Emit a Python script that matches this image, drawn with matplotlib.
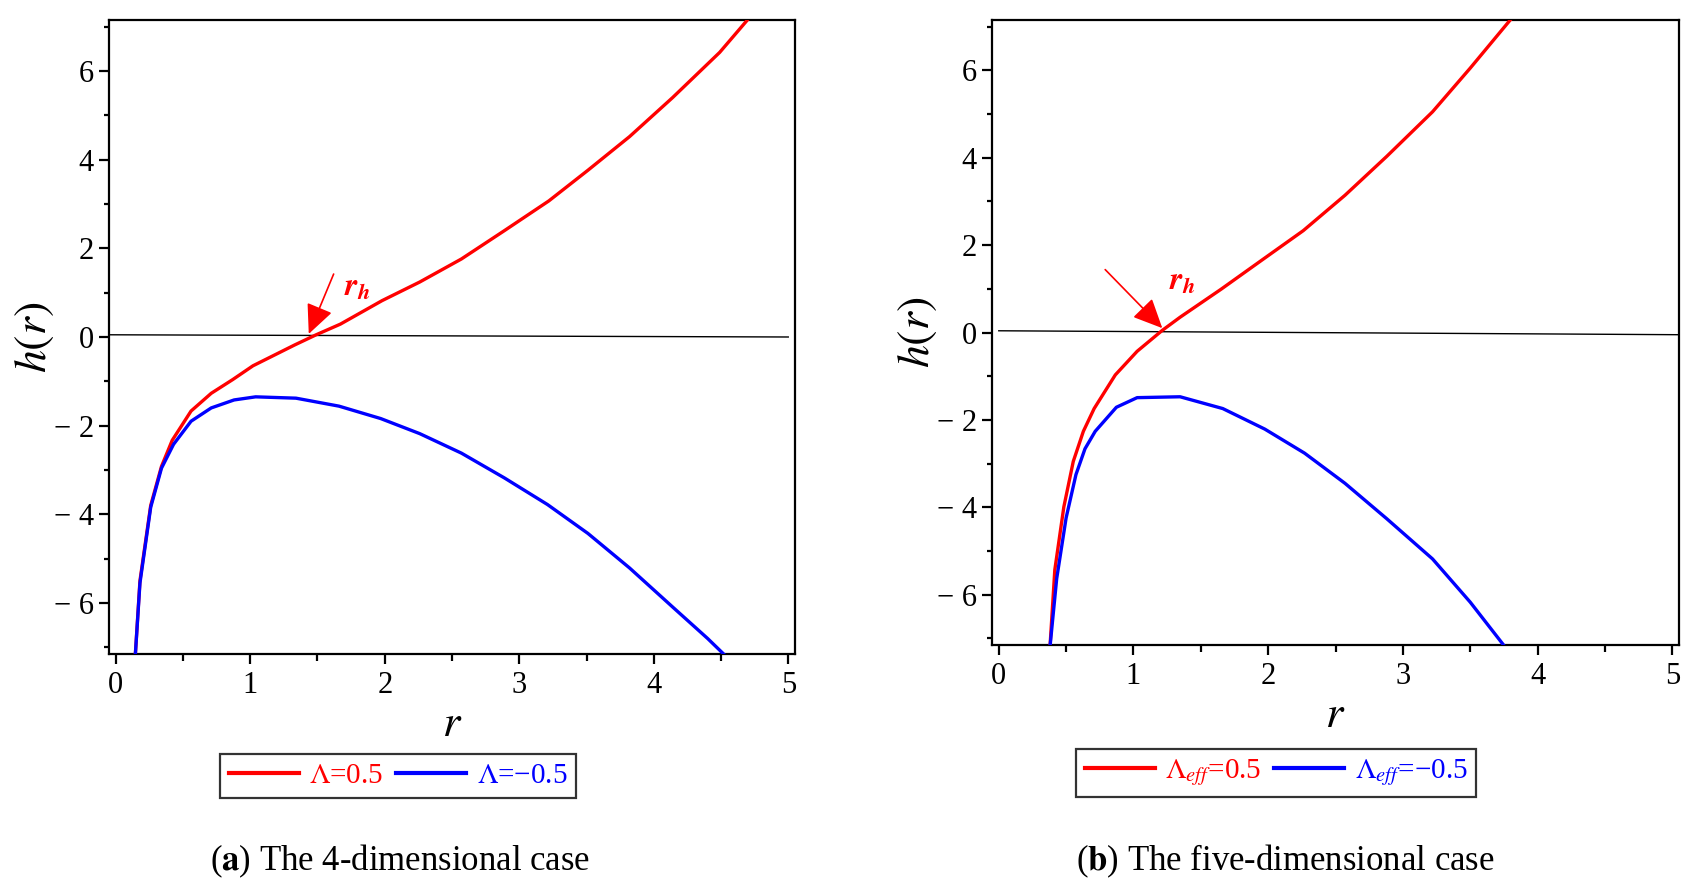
import matplotlib
matplotlib.use("Agg")
import matplotlib.pyplot as plt
from matplotlib.ticker import MultipleLocator, FixedLocator

plt.rcParams['font.family'] = ['Liberation Serif', 'DejaVu Serif']
plt.rcParams['mathtext.fontset'] = 'stix'

# ---------------- data ----------------
# (a) 4-dimensional case
r4_pos = [0.145, 0.18, 0.26, 0.34, 0.42, 0.56, 0.71, 0.87, 1.02, 1.33, 1.49, 1.67,
          1.98, 2.26, 2.57, 2.89, 3.22, 3.51, 3.82, 4.14, 4.49, 4.71]
h4_pos = [-7.2, -5.5, -3.80, -2.92, -2.33, -1.67, -1.27, -0.96, -0.65, -0.18, 0.05, 0.29,
          0.82, 1.24, 1.76, 2.40, 3.07, 3.76, 4.52, 5.40, 6.42, 7.2]
r4_neg = [0.145, 0.18, 0.26, 0.34, 0.43, 0.56, 0.71, 0.88, 1.04, 1.34, 1.66, 1.97,
          2.26, 2.57, 2.89, 3.21, 3.51, 3.82, 4.14, 4.40, 4.57]
h4_neg = [-7.2, -5.55, -3.84, -2.96, -2.42, -1.90, -1.60, -1.42, -1.35, -1.38, -1.56, -1.84,
          -2.18, -2.62, -3.18, -3.78, -4.43, -5.21, -6.09, -6.80, -7.3]
r4_zero = [-0.05, 5.0]
h4_zero = [0.05, 0.0]

# (b) five-dimensional case
r5_pos = [0.38, 0.416, 0.483, 0.553, 0.628, 0.708, 0.865, 1.027, 1.214, 1.346, 1.65,
          1.95, 2.26, 2.57, 2.88, 3.22, 3.50, 3.81]
h5_pos = [-7.2, -5.43, -3.99, -2.95, -2.26, -1.74, -0.97, -0.43, 0.05, 0.35, 0.99,
          1.65, 2.33, 3.14, 4.03, 5.05, 6.05, 7.2]
r5_neg = [0.38, 0.43, 0.50, 0.573, 0.64, 0.716, 0.873, 1.027, 1.346, 1.663, 1.975,
          2.27, 2.57, 2.88, 3.22, 3.50, 3.76]
h5_neg = [-7.2, -5.63, -4.24, -3.25, -2.66, -2.26, -1.71, -1.49, -1.47, -1.74, -2.21,
          -2.76, -3.45, -4.26, -5.18, -6.17, -7.2]
r5_zero = [0.0, 5.05]
h5_zero = [0.04, -0.05]

x_ticks = [0, 1, 2, 3, 4, 5]
y_ticks = [-6, -4, -2, 0, 2, 4, 6]
labels4 = [r"$\Lambda$=0.5", r"$\Lambda$=−0.5"]
labels5 = [r"$\Lambda_{eff}$=0.5", r"$\Lambda_{eff}$=−0.5"]
captions = [("a", " The 4-dimensional case"), ("b", " The five-dimensional case")]
# arrow (tail, head) and label position for r_h
arrow4 = ((1.62, 1.42), (1.435, 0.07), (1.80, 1.09))
arrow5 = ((0.79, 1.44), (1.214, 0.10), (1.36, 1.16))

RED = '#ff0000'
BLUE = '#0000ff'
SERIF = ['Liberation Serif', 'DejaVu Serif']

fig = plt.figure(figsize=(17.06, 8.94), dpi=100)
ax1 = fig.add_axes([0.0639, 0.2685, 0.4021, 0.7091])
ax2 = fig.add_axes([0.5815, 0.2785, 0.4027, 0.6991])


def style(ax):
    ax.set_xlim(-0.05, 5.05)
    ax.set_ylim(-7.15, 7.15)
    ax.xaxis.set_major_locator(FixedLocator(x_ticks))
    ax.xaxis.set_minor_locator(MultipleLocator(0.5))
    ax.yaxis.set_major_locator(FixedLocator(y_ticks))
    ax.yaxis.set_minor_locator(MultipleLocator(1))
    ax.set_xticklabels([str(v) for v in x_ticks], fontfamily=SERIF)
    ax.set_yticklabels([str(v).replace('-', '− ') for v in y_ticks], fontfamily=SERIF)
    ax.tick_params(which='both', direction='out', width=1.6, labelsize=22,
                   top=False, right=False)
    ax.tick_params(axis='y', which='major', length=7, pad=4)
    ax.tick_params(axis='y', which='minor', length=3.5)
    ax.tick_params(axis='x', which='major', length=7, pad=5)
    ax.tick_params(axis='x', which='minor', length=5)
    for sp in ax.spines.values():
        sp.set_linewidth(1.6)
    ax.set_ylabel(r"$h(r)$", fontsize=33, labelpad=-2)
    ax.set_xlabel(r"$r$", fontsize=32, labelpad=4)


for ax, (rp, hp, rn, hn, rz, hz, labs, arr) in zip(
        [ax1, ax2],
        [(r4_pos, h4_pos, r4_neg, h4_neg, r4_zero, h4_zero, labels4, arrow4),
         (r5_pos, h5_pos, r5_neg, h5_neg, r5_zero, h5_zero, labels5, arrow5)]):
    style(ax)
    ax.plot(rz, hz, color='black', lw=1.0, zorder=2)
    ax.plot(rp, hp, color=RED, lw=2.4, zorder=3, label=labs[0])
    ax.plot(rn, hn, color=BLUE, lw=2.4, zorder=3, label=labs[1])
    tail, head, tpos = arr
    ax.annotate("", xy=head, xytext=tail,
                arrowprops=dict(arrowstyle='-|>,head_length=1.3,head_width=0.6',
                                color=RED, lw=1.2, shrinkA=0, shrinkB=0,
                                mutation_scale=14), zorder=4)
    ax.text(tpos[0], tpos[1], r"$\mathbfit{r}_{\mathbfit{h}}$", color=RED,
            fontsize=23, ha='center', va='center', zorder=4)

# legends
leg_specs = [(ax1, 398 / 1706, 1 - 776 / 894), (ax2, 1276 / 1706, 1 - 773 / 894)]
for ax, cx, cy in leg_specs:
    handles, labs = ax.get_legend_handles_labels()
    leg = fig.legend(handles, labs, loc='center', bbox_to_anchor=(cx, cy),
                     bbox_transform=fig.transFigure, ncol=2, fontsize=21,
                     frameon=True, fancybox=False, shadow=False,
                     handlelength=2.4, handletextpad=0.35, columnspacing=0.45,
                     borderpad=0.3, borderaxespad=0)
    leg.get_frame().set_edgecolor('black')
    leg.get_frame().set_linewidth(1.6)
    for t, c in zip(leg.get_texts(), [RED, BLUE]):
        t.set_color(c)
    for l in leg.get_lines():
        l.set_linewidth(3)

# captions
for (letter, rest), cx in zip(captions, [400 / 1706, 1285 / 1706]):
    fig.text(cx, 1 - 861 / 894, "(" + r"$\mathbf{" + letter + "}$" + ")" + rest,
             ha='center', va='center', fontsize=25)

fig.savefig("out.png", dpi=100, facecolor='white')
